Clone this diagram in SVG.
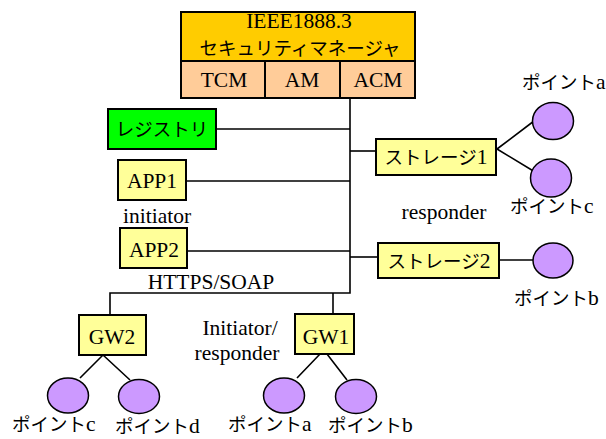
<svg xmlns="http://www.w3.org/2000/svg" width="606" height="439" viewBox="0 0 606 439">
  <style>
    .box { stroke: #000; stroke-width: 2; }
    .mgr { fill: #ffcc00; }
    .sub { fill: #ffcc99; }
    .app { fill: #ffff99; }
    .reg { fill: #00ff00; }
    .pt { fill: #cc99ff; stroke: #000; stroke-width: 1.5; }
    .wire { stroke: #000; stroke-width: 1.6; fill: none; }
    text { font-family: "Liberation Serif", "Noto Sans CJK JP", serif; font-size: 21.5px; fill: #000; }
    .c { text-anchor: middle; }
    .jp { font-family: "Noto Sans CJK JP", "Liberation Sans", sans-serif; font-size: 18.5px; }
  </style>
  <rect width="606" height="439" fill="#fff"/>

  <!-- connectors -->
  <g id="connectors">
    <path class="wire" d="M350 98 V293 H110 V315"/>
    <path class="wire" d="M333 293 V314"/>
    <path class="wire" d="M216 129 H350"/>
    <path class="wire" d="M186 181 H350"/>
    <path class="wire" d="M187 251 H350"/>
    <path class="wire" d="M350 151 H376"/>
    <path class="wire" d="M350 257 H378"/>
    <path class="wire" d="M497 149 L534 121 M497 149 L535 172"/>
    <path class="wire" d="M499 260 L533 260"/>
    <path class="wire" d="M103 355 L80 378 M103 355 L130 380"/>
    <path class="wire" d="M320 354 L297 378 M327 354 L347 380"/>
  </g>

  <!-- security manager -->
  <g id="security-manager">
    <rect class="box mgr" x="181" y="12" width="234" height="49"/>
    <text class="c" x="299" y="28">IEEE1888.3</text>
    <text class="c jp" x="300" y="55" font-size="19">セキュリティマネージャ</text>
    <rect class="box sub" x="181" y="61" width="84" height="37"/>
    <rect class="box sub" x="265" y="61" width="75" height="37"/>
    <rect class="box sub" x="340" y="61" width="75" height="37"/>
    <text class="c" x="224" y="87">TCM</text>
    <text class="c" x="302" y="87">AM</text>
    <text class="c" x="378" y="87">ACM</text>
  </g>

  <g id="registry">
    <rect class="box reg" x="108" y="109" width="108" height="40"/>
    <text class="c jp" x="162" y="136">レジストリ</text>
  </g>

  <g id="app1">
    <rect class="box app" x="118" y="160" width="68" height="40"/>
    <text class="c" x="152" y="188">APP1</text>
  </g>
  <text x="123" y="223">initiator</text>

  <g id="app2">
    <rect class="box app" x="120" y="228" width="67" height="40"/>
    <text class="c" x="154" y="257">APP2</text>
  </g>
  <text class="c" x="211" y="289">HTTPS/SOAP</text>

  <g id="storage1">
    <rect class="box app" x="376" y="139" width="120" height="36"/>
    <text class="c" x="436" y="164"><tspan class="jp">ストレージ</tspan>1</text>
  </g>
  <text class="c" x="444" y="219">responder</text>

  <g id="storage2">
    <rect class="box app" x="378" y="243" width="121" height="35"/>
    <text class="c" x="439" y="268"><tspan class="jp">ストレージ</tspan>2</text>
  </g>

  <g id="gw2">
    <rect class="box app" x="79" y="315" width="67" height="40"/>
    <text class="c" x="112" y="344">GW2</text>
  </g>
  <g id="gw1">
    <rect class="box app" x="295" y="314" width="59" height="40"/>
    <text class="c" x="326" y="344">GW1</text>
  </g>
  <text class="c" x="240" y="335">Initiator/</text>
  <text class="c" x="237" y="360">responder</text>

  <!-- points attached to storage -->
  <g id="s1-point-a">
    <ellipse class="pt" cx="553" cy="121" rx="20.5" ry="18.5"/>
    <text x="522" y="89"><tspan class="jp">ポイント</tspan>a</text>
  </g>
  <g id="s1-point-c">
    <ellipse class="pt" cx="551" cy="178" rx="20.5" ry="19"/>
    <text x="510" y="213"><tspan class="jp">ポイント</tspan>c</text>
  </g>
  <g id="s2-point-b">
    <ellipse class="pt" cx="553" cy="260.5" rx="20" ry="17.5"/>
    <text x="514" y="305"><tspan class="jp">ポイント</tspan>b</text>
  </g>

  <!-- points attached to gateways -->
  <g id="gw2-point-c">
    <ellipse class="pt" cx="68" cy="395.5" rx="20.5" ry="17.5"/>
    <text x="12" y="431"><tspan class="jp">ポイント</tspan>c</text>
  </g>
  <g id="gw2-point-d">
    <ellipse class="pt" cx="139" cy="396.5" rx="20.5" ry="17"/>
    <text x="115" y="433"><tspan class="jp">ポイント</tspan>d</text>
  </g>
  <g id="gw1-point-a">
    <ellipse class="pt" cx="284" cy="395.5" rx="20.5" ry="17.5"/>
    <text x="228" y="431"><tspan class="jp">ポイント</tspan>a</text>
  </g>
  <g id="gw1-point-b">
    <ellipse class="pt" cx="356" cy="396.5" rx="20.5" ry="17"/>
    <text x="328" y="432"><tspan class="jp">ポイント</tspan>b</text>
  </g>
</svg>
